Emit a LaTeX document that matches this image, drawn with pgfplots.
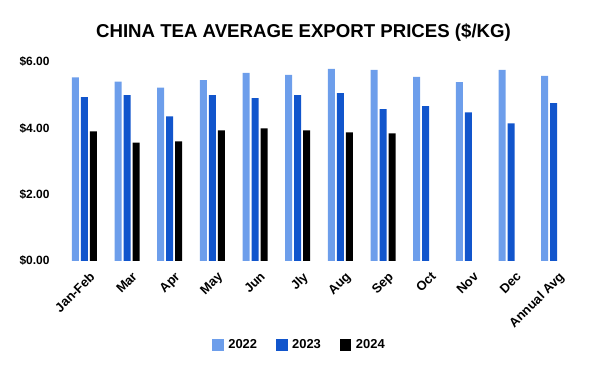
\documentclass[border=0pt]{standalone}
\usepackage{pgfplots}
\pgfplotsset{compat=1.18}
\usepackage{fontspec}
\setmainfont{Liberation Sans}
\definecolor{c22}{HTML}{6D9EEB}
\definecolor{c23}{HTML}{1155CC}
\definecolor{c24}{HTML}{000000}
\begin{document}
\begin{tikzpicture}
\useasboundingbox (0,0) rectangle (600bp,371bp);
\node[font=\bfseries\fontsize{18.7}{22}\selectfont] at (303.5bp,338.5bp) {CHINA TEA AVERAGE EXPORT PRICES (\$/KG)};
\begin{axis}[
  at={(63bp,110bp)}, anchor=south west,
  scale only axis, width=512bp, height=199bp,
  ybar=2bp, bar width=7bp,
  xmin=-0.5, xmax=11.5, ymin=0, ymax=6,
  xtick={0,...,11},
  xticklabels={Jan-Feb,Mar,Apr,May,Jun,Jly,Aug,Sep,Oct,Nov,Dec,Annual Avg},
  ytick={0,2,4,6},
  yticklabel={\$\pgfmathprintnumber[fixed,fixed zerofill,precision=2]{\tick}},
  /pgf/number format/assume math mode=true,
  major tick length=0pt,
  axis line style={draw=none},
  tick label style={font=\bfseries\fontsize{12}{14}\selectfont},
  xticklabel style={font=\bfseries\fontsize{13}{15}\selectfont, inner sep=0pt, xshift=4.5bp, yshift=-10bp, rotate=45, anchor=north east},
  yticklabel style={xshift=-10bp},
  legend style={at={(0.462,-0.422)}, anchor=center, draw=none, legend columns=3,
    font=\bfseries\fontsize{13}{15}\selectfont,
    /tikz/every odd column/.append style={column sep=2.5bp},
    /tikz/every even column/.append style={column sep=17bp}},
  legend image code/.code={\fill[#1] (0bp,-5.75bp) rectangle (11.5bp,5.75bp);},
]
\addplot[fill=c22, draw=none] coordinates {(0,5.54) (1,5.41) (2,5.23) (3,5.45) (4,5.67) (5,5.61) (6,5.79) (7,5.76) (8,5.55) (9,5.39) (10,5.76) (11,5.58)};
\addplot[fill=c23, draw=none] coordinates {(0,4.94) (1,5.00) (2,4.36) (3,5.00) (4,4.91) (5,5.00) (6,5.06) (7,4.58) (8,4.67) (9,4.48) (10,4.15) (11,4.76)};
\addplot[fill=c24, draw=none] coordinates {(0,3.91) (1,3.57) (2,3.61) (3,3.94) (4,4.00) (5,3.94) (6,3.88) (7,3.85)};
\legend{2022,2023,2024}
\end{axis}
\end{tikzpicture}
\end{document}
